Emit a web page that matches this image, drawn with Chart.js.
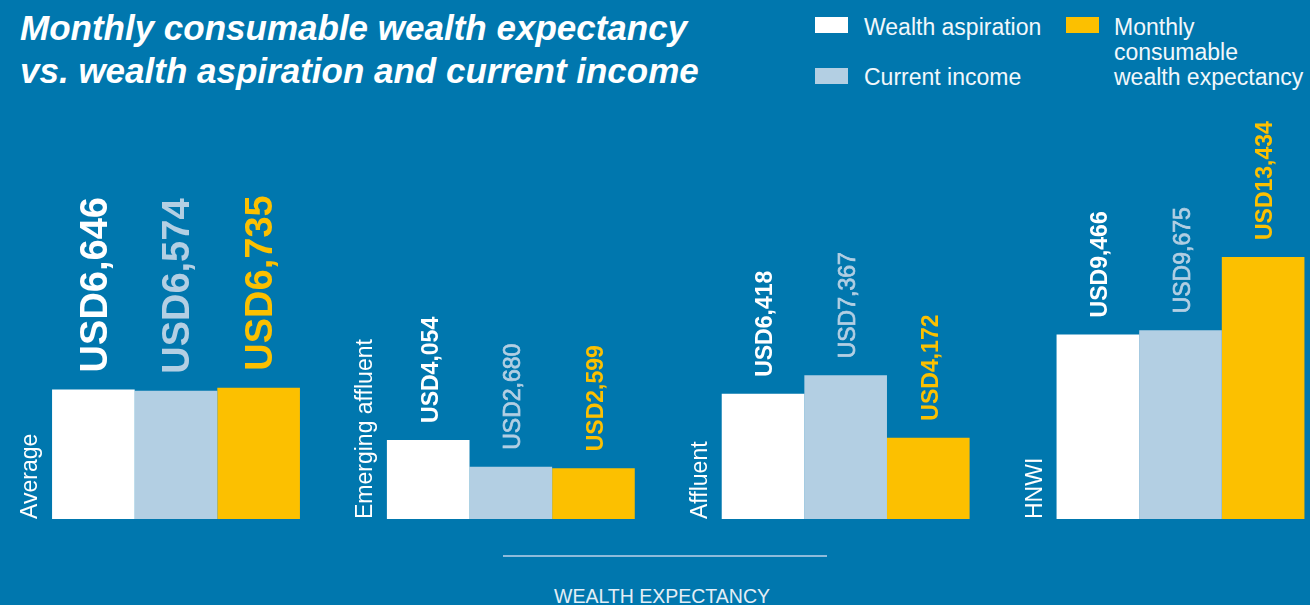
<!DOCTYPE html>
<html>
<head>
<meta charset="utf-8">
<script src="https://cdn.jsdelivr.net/npm/chart.js@4.4.1/dist/chart.umd.min.js"></script>
<style>
  html, body { margin: 0; padding: 0; background: #0077ae; overflow: hidden; }
  body { width: 1310px; height: 605px; position: relative; font-family: "Liberation Sans", Arial, sans-serif; color: #fff; }
  #c { position: absolute; left: 0; top: 0; }
  .title { position: absolute; left: 20px; top: 6px; font-size: 35px; font-weight: bold; font-style: italic; line-height: 43px; white-space: nowrap; }
  .lg { position: absolute; font-size: 23px; line-height: 25px; white-space: nowrap; color: #f2f7fb; }
  .sw { position: absolute; width: 33px; height: 16px; }
  .axt { position: absolute; left: 0; width: 1324px; text-align: center; top: 585px; font-size: 19.5px; line-height: 22px; color: #e3eef6; }
  .axl { position: absolute; left: 503px; width: 324px; top: 555px; height: 1.5px; background: #8dbbdb; }
</style>
</head>
<body>
<div class="title">Monthly consumable wealth expectancy<br>vs. wealth aspiration and current income</div>

<div class="sw" style="left:815px; top:17px; background:#ffffff;"></div>
<div class="lg" style="left:864px; top:15px;">Wealth aspiration</div>
<div class="sw" style="left:815px; top:68px; background:#b3cfe3;"></div>
<div class="lg" style="left:864px; top:65px;">Current income</div>
<div class="sw" style="left:1066px; top:17px; background:#fcc000;"></div>
<div class="lg" style="left:1114px; top:15px;">Monthly<br>consumable<br>wealth expectancy</div>

<div class="axl"></div>
<div class="axt">WEALTH EXPECTANCY</div>

<canvas id="c" width="1310" height="605"></canvas>
<script>
const categories = ["Average", "Emerging affluent", "Affluent", "HNWI"];
const seriesNames = ["Wealth aspiration", "Current income", "Monthly consumable wealth expectancy"];
const wealthAspiration = [6646, 4054, 6418, 9466];
const currentIncome = [6574, 2680, 7367, 9675];
const monthlyConsumable = [6735, 2599, 4172, 13434];
const yMin = 0;
const yMax = 20000;

const colors = ["#ffffff", "#b3cfe3", "#fcc000"];

function fmt(v) { return "USD" + v.toLocaleString("en-US"); }

const labelPlugin = {
  id: "labels",
  afterDatasetsDraw(chart) {
    const ctx = chart.ctx;
    const base = chart.scales.y.getPixelForValue(0);
    // value labels
    chart.data.datasets.forEach((ds, di) => {
      const meta = chart.getDatasetMeta(di);
      meta.data.forEach((bar, i) => {
        const big = i === 0;
        const bold = big || di !== 1;
        ctx.save();
        ctx.translate(bar.x + 3, bar.y - 17);
        ctx.rotate(-Math.PI / 2);
        ctx.font = (bold ? "bold " : "") + (big ? "38px" : "23px") + ' "Liberation Sans", Arial, sans-serif';
        ctx.fillStyle = colors[di];
        ctx.textAlign = "left";
        ctx.textBaseline = "middle";
        const t = fmt(ds.data[i]);
        ctx.fillText(t, 0, 0);
        if (!bold) {
          ctx.strokeStyle = colors[di];
          ctx.lineWidth = 0.7;
          ctx.strokeText(t, 0, 0);
        }
        ctx.restore();
      });
    });
    // category labels
    const m0 = chart.getDatasetMeta(0);
    m0.data.forEach((bar, i) => {
      const left = bar.x - bar.width / 2;
      ctx.save();
      ctx.translate(left - 15, base);
      ctx.rotate(-Math.PI / 2);
      ctx.font = '23px "Liberation Sans", Arial, sans-serif';
      ctx.fillStyle = "#ffffff";
      ctx.textAlign = "left";
      ctx.textBaseline = "alphabetic";
      ctx.fillText(categories[i], 0, 0);
      ctx.restore();
    });
  }
};

new Chart(document.getElementById("c"), {
  type: "bar",
  data: {
    labels: categories,
    datasets: [
      { label: seriesNames[0], data: wealthAspiration, backgroundColor: colors[0] },
      { label: seriesNames[1], data: currentIncome, backgroundColor: colors[1] },
      { label: seriesNames[2], data: monthlyConsumable, backgroundColor: colors[2] }
    ]
  },
  options: {
    responsive: false,
    animation: false,
    devicePixelRatio: 1,
    layout: { padding: { left: 176, right: 129.5, top: 129, bottom: 86 } },
    datasets: { bar: { barPercentage: 1, categoryPercentage: 0.7403, borderWidth: 0, clip: false } },
    plugins: { legend: { display: false }, title: { display: false }, tooltip: { enabled: false } },
    scales: {
      x: { display: false, offset: false, grid: { display: false } },
      y: { display: false, min: yMin, max: yMax, grid: { display: false } }
    }
  },
  plugins: [labelPlugin]
});
</script>
</body>
</html>
